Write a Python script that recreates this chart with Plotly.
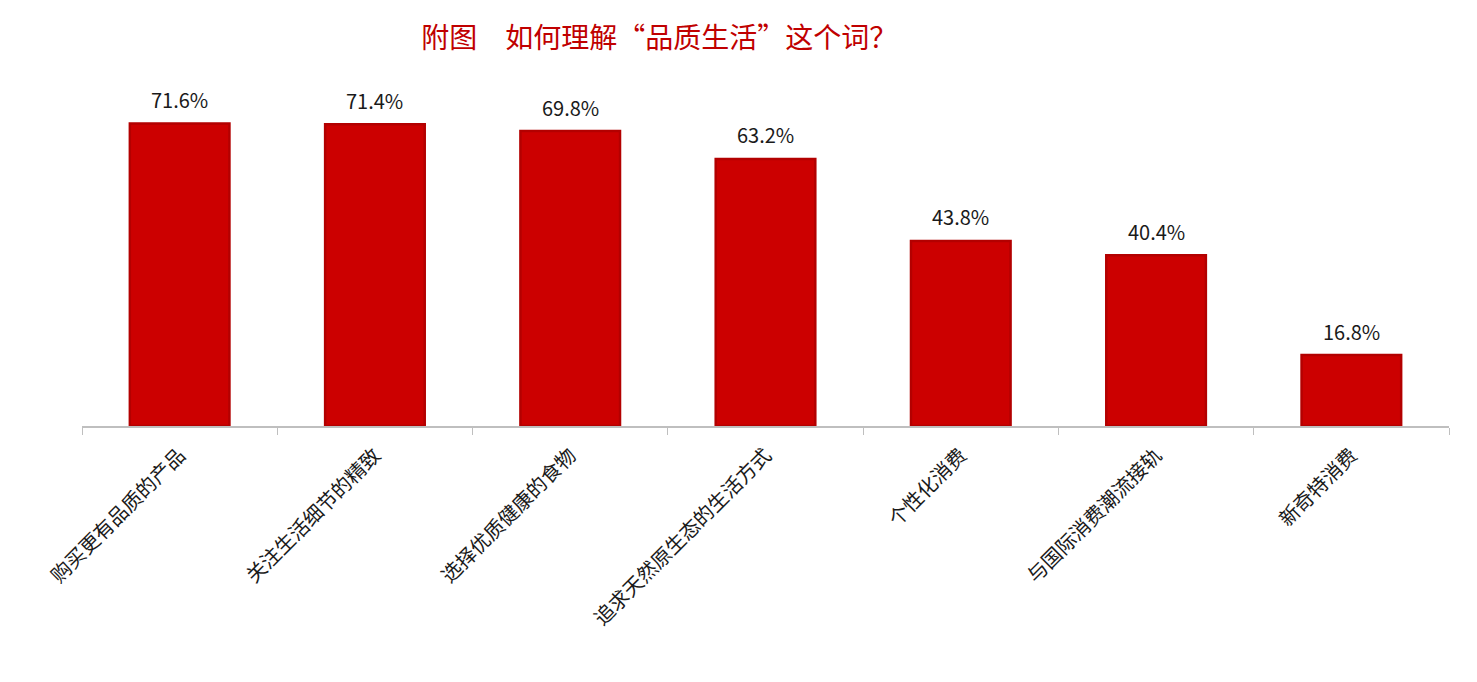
import plotly.graph_objects as go

categories = ["购买更有品质的产品", "关注生活细节的精致", "选择优质健康的食物",
              "追求天然原生态的生活方式", "个性化消费", "与国际消费潮流接轨", "新奇特消费"]
values = [71.6, 71.4, 69.8, 63.2, 43.8, 40.4, 16.8]
value_labels = [f"{v:.1f}%" for v in values]

font_cjk = "Noto Sans CJK SC, Noto Sans, sans-serif"

fig = go.Figure()
fig.add_trace(go.Bar(
    x=categories, y=values,
    marker=dict(color="#CC0000", line=dict(color="#B30000", width=2.5)),
    cliponaxis=False,
))

# value labels sit a little above each bar
for c, v, t in zip(categories, values, value_labels):
    fig.add_annotation(x=c, y=v, text=t, showarrow=False, yanchor="middle", yshift=24,
                       font=dict(size=20, color="#1a1a1a", family=font_cjk))

# page body adds an 8px offset, margins account for it
fig.update_layout(
    width=1477, height=682,
    margin=dict(l=74, r=36, t=80, b=264, autoexpand=False),
    paper_bgcolor="white", plot_bgcolor="white",
    showlegend=False,
    bargap=0.49,
    title=dict(text="附图\u3000如何理解“品质生活”这个词？", x=0.441, xanchor="center",
               y=0.956, yanchor="middle",
               font=dict(size=28, color="#C00000", family=font_cjk)),
    xaxis=dict(showline=True, linecolor="#BFBFBF", linewidth=1.5, automargin=False,
               ticks="outside", tickson="boundaries", ticklen=7, tickcolor="#BFBFBF",
               ticklabelstandoff=8,
               tickangle=-45, tickfont=dict(size=20, color="#1a1a1a", family=font_cjk)),
    yaxis=dict(range=[0, 80], visible=False, showgrid=False),
)

fig.write_html("out.html")
